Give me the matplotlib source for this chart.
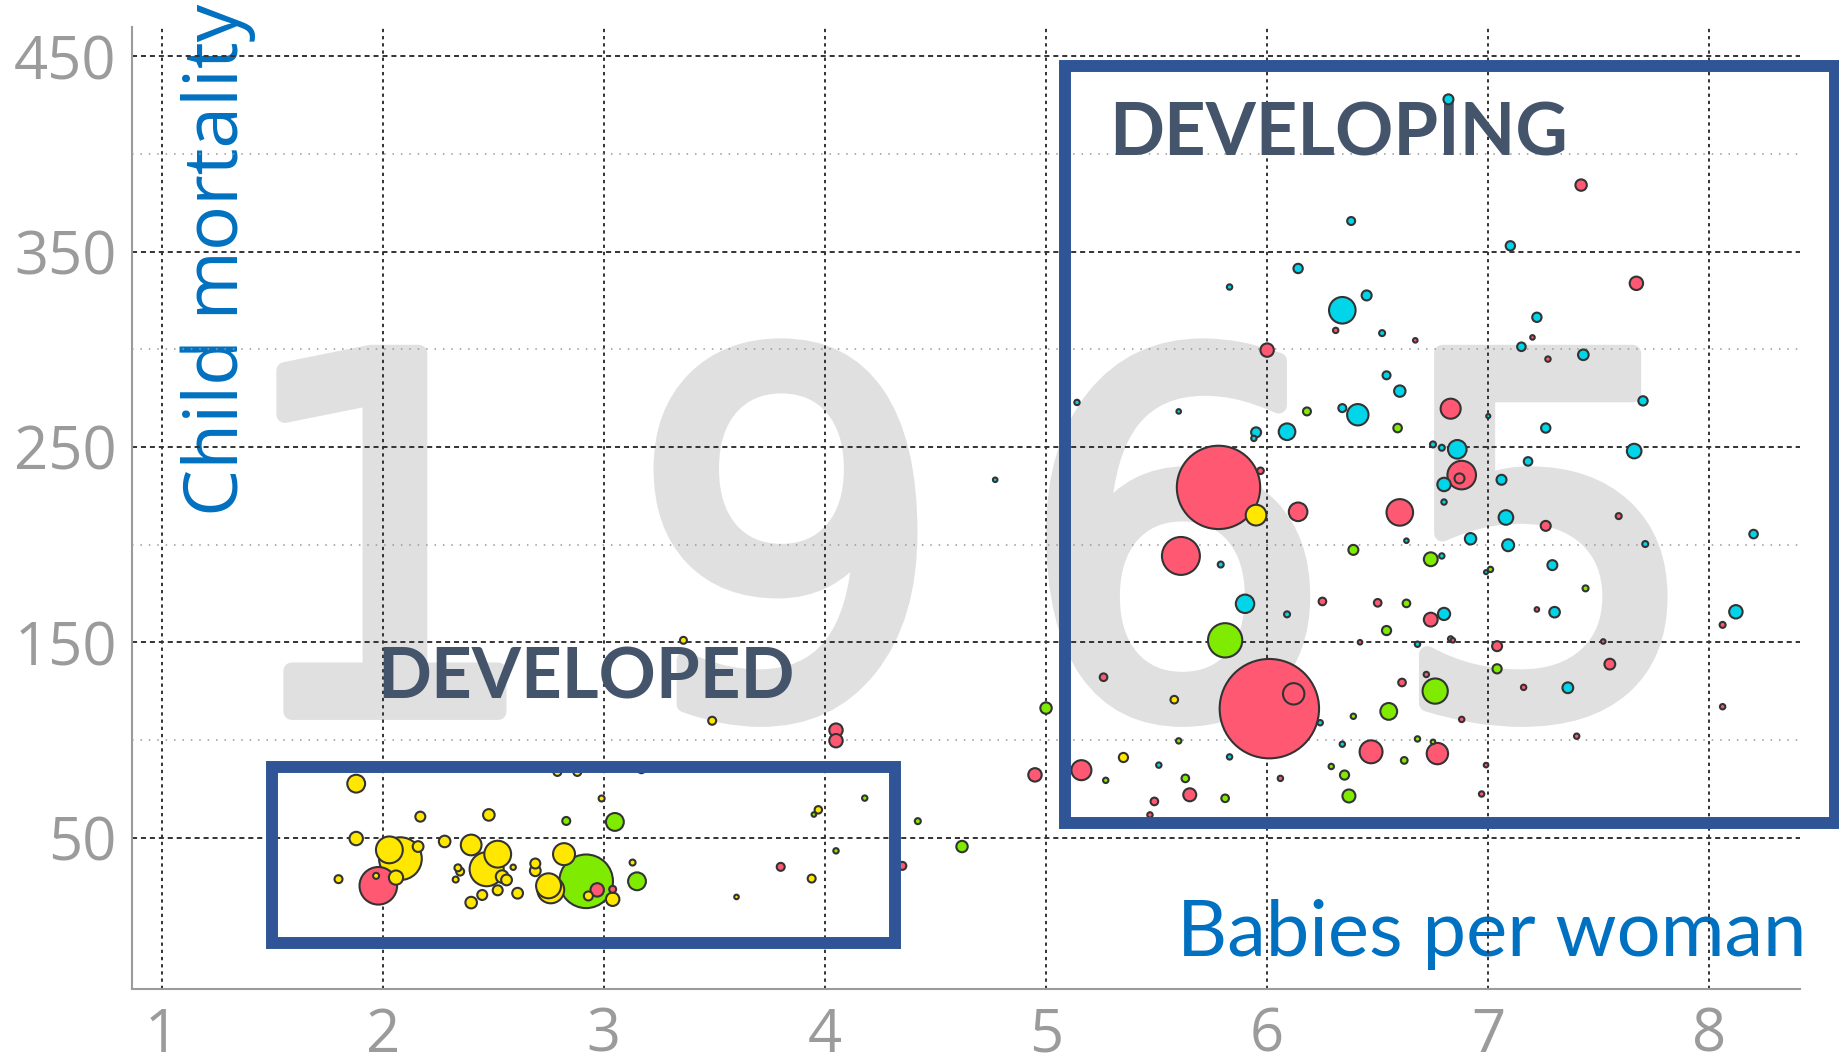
"""
Gapminder style bubble chart, 1965: babies per woman vs child mortality.
"""
import matplotlib.pyplot as plt
import matplotlib.patheffects as pe
from matplotlib.patches import Rectangle
import numpy as np

# == Data: (babies per woman, child mortality, population in millions) == #
asia = [(6.31, 309.7, 2.1), (6.67, 304.6, 1.5), (6.00, 299.6, 13), (6.83, 269.6, 29),
        (5.78, 229.3, 502), (5.97, 237.8, 3.1), (6.14, 216.8, 25), (6.60, 216.5, 51),
        (6.88, 235.6, 59), (6.87, 233.9, 7.2), (7.42, 384.1, 9.4), (7.67, 333.8, 13),
        (7.20, 306.1, 1.5), (7.27, 295.0, 2.1), (7.26, 209.6, 7.2), (7.59, 214.6, 2.6),
        (7.22, 166.8, 1.5), (8.06, 158.9, 2.6), (6.84, 151.0, 1.5), (7.04, 148.0, 7.2),
        (7.52, 150.4, 1.5), (5.61, 194.2, 104), (6.25, 170.9, 4.2), (6.50, 170.2, 4.2),
        (6.74, 161.6, 13.8), (6.42, 150.0, 1.5), (6.83, 151.7, 2.1), (7.55, 138.8, 8.4),
        (5.26, 132.1, 4.2), (6.72, 133.5, 2.1), (6.61, 129.4, 4.2), (7.16, 126.9, 2.1),
        (6.01, 116.0, 714), (6.12, 123.6, 33), (6.88, 110.5, 2.1), (7.40, 101.9, 2.1),
        (6.47, 93.9, 38), (6.77, 93.0, 33), (5.16, 84.5, 29), (5.65, 71.9, 12.2),
        (5.49, 68.5, 4.2), (6.06, 80.3, 2.1), (6.99, 87.1, 1.5), (6.97, 72.3, 2.1),
        (5.47, 61.6, 2.1), (4.05, 105.0, 13), (4.05, 99.6, 13), (4.95, 82.1, 13),
        (3.80, 35.0, 4.6), (4.35, 35.5, 4.6), (8.06, 117.0, 2.1), (1.98, 25.3, 102),
        (2.97, 23.2, 13), (3.04, 23.5, 3.5)]

africa = [(6.38, 365.7, 4.6), (6.14, 341.4, 6.3), (5.83, 331.9, 2.1), (6.34, 320.0, 51),
          (6.45, 327.6, 7.2), (6.52, 308.3, 2.6), (6.54, 286.7, 4.6), (6.60, 278.6, 9.4),
          (5.14, 272.8, 2.1), (5.60, 268.2, 1.5), (6.34, 269.9, 4.6), (6.41, 266.5, 33),
          (7.00, 265.8, 1.2), (5.95, 257.5, 7.2), (5.94, 254.4, 2.1), (6.09, 257.8, 20),
          (6.75, 251.3, 2.6), (6.79, 249.6, 2.6), (6.86, 248.8, 25), (6.80, 230.8, 13),
          (6.80, 221.8, 2.1), (6.63, 202.0, 1.5), (6.92, 203.0, 9.4), (7.10, 353.0, 6.3),
          (7.22, 316.4, 6.3), (7.15, 301.3, 5.3), (7.43, 297.2, 8.1), (7.70, 273.6, 6.3),
          (7.26, 259.7, 6.3), (7.66, 247.9, 15.4), (7.18, 242.6, 5.3), (7.06, 233.2, 7.2),
          (7.08, 213.9, 15.4), (7.09, 199.7, 10.4), (7.71, 200.3, 2.6), (8.20, 205.4, 5.3),
          (6.99, 185.9, 1.2), (7.29, 189.5, 7.2), (7.30, 165.4, 8.1), (8.12, 165.6, 13),
          (6.79, 194.2, 2.1), (5.79, 189.8, 2.6), (5.90, 169.7, 24.5), (6.09, 164.3, 2.6),
          (6.80, 164.5, 10.8), (6.68, 149.0, 2.1), (7.36, 126.7, 8.4), (6.24, 108.8, 2.1),
          (6.34, 97.8, 2.1), (5.51, 87.1, 2.1), (5.83, 91.3, 2.1), (4.77, 233.2, 1.5),
          (6.82, 428.0, 7.2)]

americas = [(6.18, 268.2, 4.6), (6.59, 259.7, 5.3), (7.01, 187.3, 2.1), (7.44, 177.6, 2.6),
            (6.39, 197.3, 7.2), (6.74, 192.5, 13.8), (6.63, 169.9, 4.2), (6.54, 156.0, 6.1),
            (5.81, 151.0, 85), (7.04, 136.4, 6.1), (6.76, 125.0, 46), (5.00, 116.3, 9.4),
            (6.55, 114.6, 20.4), (6.39, 112.1, 2.1), (5.60, 99.5, 2.1), (6.68, 100.5, 2.1),
            (6.75, 99.0, 1.5), (5.27, 79.3, 2.1), (5.63, 80.3, 4.2), (5.81, 70.1, 4.2),
            (6.29, 86.4, 2.1), (6.35, 82.0, 6.1), (6.37, 71.3, 12.2), (6.62, 89.5, 3.3),
            (4.18, 70.2, 2.1), (3.95, 61.8, 1.5), (4.42, 58.4, 2.6), (4.62, 45.4, 9.4),
            (4.05, 43.2, 2.1), (2.83, 58.5, 4.6), (3.05, 58.0, 23), (2.92, 27.6, 208),
            (3.15, 27.6, 23)]

europe = [(5.95, 215.1, 31), (5.58, 120.6, 4.2), (5.35, 91.0, 6.1), (3.49, 109.8, 4.6),
          (3.97, 64.2, 4.0), (3.94, 29.0, 4.6), (3.60, 19.6, 1.5), (3.36, 151.0, 3.5),
          (1.88, 77.6, 23), (2.79, 83.6, 4.6), (2.88, 83.6, 4.6), (3.17, 85.0, 4.6),
          (2.99, 70.0, 2.6), (2.17, 60.7, 7.2), (2.48, 61.6, 9.7), (1.88, 49.5, 13),
          (2.08, 39.2, 132), (2.03, 43.7, 52), (2.16, 45.4, 8.4), (2.28, 48.0, 9.7),
          (2.40, 46.2, 31), (2.52, 41.5, 52), (2.47, 33.8, 84), (2.54, 30.0, 11.5),
          (2.56, 28.3, 8.4), (2.59, 34.8, 2.1), (2.34, 34.5, 3.5), (2.35, 32.6, 4.6),
          (2.33, 28.5, 2.6), (1.80, 28.7, 4.6), (1.97, 30.4, 2.6), (2.06, 29.5, 14.6),
          (2.45, 20.6, 7.2), (2.52, 23.0, 7.2), (2.40, 16.7, 9.7), (2.61, 21.5, 8.4),
          (2.69, 36.7, 7.2), (2.69, 33.0, 8.4), (2.82, 41.5, 35), (2.75, 25.3, 45),
          (2.76, 23.2, 52), (2.93, 20.1, 5.9), (3.04, 18.4, 13), (3.13, 37.2, 2.6)]

region_colors = {'asia': '#FF5872', 'africa': '#00D5E9',
                 'americas': '#7FEB00', 'europe': '#FFE700'}
year = '1965'
x_ticks = [1, 2, 3, 4, 5, 6, 7, 8]
y_ticks = [50, 150, 250, 350, 450]
y_minor = [100, 200, 300, 400]

# == Combine regions, biggest bubbles drawn first == #
pts = []
for name, data in [('asia', asia), ('africa', africa),
                   ('americas', americas), ('europe', europe)]:
    for x, y, p in data:
        pts.append((x, y, p, region_colors[name]))
pts.sort(key=lambda t: -t[2])
xs = np.array([t[0] for t in pts])
ys = np.array([t[1] for t in pts])
pop = np.array([t[2] for t in pts])
cols = [t[3] for t in pts]
diam = 2.678 * np.sqrt(pop)   # points, area ~ population
sizes = diam ** 2

# == Figure == #
fig = plt.figure(figsize=(18.39, 10.56), dpi=100)
ax = fig.add_axes([132 / 1839, 66.7 / 1056, 1668 / 1839, 962.6 / 1056])
ax.set_xlim(0.866, 8.41)
ax.set_ylim(-27.7, 465.2)

# big year in the background
thick = [pe.withStroke(linewidth=12, foreground='#E0E0E0',
                       capstyle='round', joinstyle='round')]
for d, xpos in zip(year, [2.02, 3.83, 5.59, 7.26]):
    ax.text(xpos, 114.5, d, fontsize=354, color='#E0E0E0', ha='center',
            va='baseline', family='DejaVu Sans', zorder=0.1, path_effects=thick)

ax.set_xticks(x_ticks)
ax.set_yticks(y_ticks)
ax.set_yticks(y_minor, minor=True)
ax.set_axisbelow(True)
ax.xaxis.grid(True, color='#333333', lw=1.4, linestyle=(0, (1.7, 2.0)))
ax.yaxis.grid(True, which='major', color='#333333', lw=1.4, linestyle=(0, (2.6, 2.0)))
ax.yaxis.grid(True, which='minor', color='#999999', lw=1.1, linestyle=(0, (1, 4.5)))
ax.tick_params(which='both', length=0, labelcolor='#9B9B9B')
ax.tick_params(axis='y', pad=11)
ax.tick_params(axis='x', pad=12)
for lab in ax.get_xticklabels() + ax.get_yticklabels():
    lab.set_fontfamily('Open Sans')
    lab.set_fontweight('normal')
    lab.set_fontsize(43)

for s in ['top', 'right']:
    ax.spines[s].set_visible(False)
for s in ['left', 'bottom']:
    ax.spines[s].set_color('#9B9B9B')
    ax.spines[s].set_linewidth(1.5)

# axis titles inside the plot
ax.text(1.344, 214.6, 'Child mortality', rotation=90, rotation_mode='anchor',
        ha='left', va='baseline', fontsize=54, color='#0070C0',
        family='Open Sans', zorder=0.3)
ax.text(8.44, -10.6, 'Babies per woman', ha='right', va='baseline',
        fontsize=56, color='#0070C0', family='Lato', zorder=0.3, clip_on=False)

# group labels
ax.text(5.285, 399, 'DEVELOPING', fontsize=52, fontweight='bold',
        color='#44546A', family='Lato', zorder=1)
ax.text(1.976, 121.3, 'DEVELOPED', fontsize=51, fontweight='bold',
        color='#44546A', family='Lato', zorder=1)

# == Bubbles == #
ax.scatter(xs, ys, s=sizes, c=cols, edgecolors='#333333', linewidths=1.5, zorder=2)

# == Boxes around the two groups == #
box_kw = dict(fill=False, ec='#2F5597', lw=8.6, clip_on=False, zorder=4)
ax.add_patch(Rectangle((1.50, -4.0), 4.315 - 1.50, 86.3 + 4.0, **box_kw))
ax.add_patch(Rectangle((5.084, 57.4), 8.57 - 5.084, 445.0 - 57.4, **box_kw))

fig.savefig('out.png', dpi=100, facecolor='white')
